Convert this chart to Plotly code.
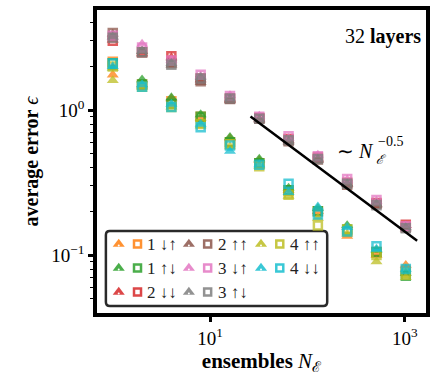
import plotly.graph_objects as go

# ensemble sizes
N = [1, 2, 4, 8, 16, 32, 64, 128, 256, 512, 1024]

# average error per configuration: (triangle run, square run)
err_1_du_tri = [1.75, 1.50, 1.20, 0.88, 0.64, 0.45, 0.28, 0.200, 0.135, 0.100, 0.085]
err_1_du_sq  = [2.15, 1.50, 1.15, 0.90, 0.60, 0.43, 0.28, 0.200, 0.145, 0.105, 0.078]
err_1_ud_tri = [1.95, 1.62, 1.22, 0.93, 0.65, 0.46, 0.29, 0.210, 0.160, 0.108, 0.075]
err_1_ud_sq  = [2.10, 1.50, 1.10, 0.90, 0.60, 0.43, 0.28, 0.200, 0.150, 0.105, 0.072]
err_2_dd_tri = [3.05, 2.45, 2.30, 1.62, 1.18, 0.87, 0.62, 0.460, 0.310, 0.225, 0.160]
err_2_dd_sq  = [3.00, 2.50, 2.35, 1.65, 1.20, 0.88, 0.63, 0.470, 0.315, 0.228, 0.162]
err_2_uu_tri = [3.35, 2.55, 2.05, 1.55, 1.17, 0.86, 0.60, 0.450, 0.310, 0.222, 0.152]
err_2_uu_sq  = [3.40, 2.50, 2.10, 1.58, 1.19, 0.87, 0.61, 0.455, 0.305, 0.225, 0.155]
err_3_du_tri = [3.20, 2.85, 2.20, 1.72, 1.26, 0.91, 0.64, 0.490, 0.330, 0.235, 0.160]
err_3_du_sq  = [3.25, 2.70, 2.20, 1.75, 1.25, 0.90, 0.66, 0.480, 0.335, 0.240, 0.158]
err_3_ud_tri = [3.20, 2.55, 2.10, 1.68, 1.20, 0.86, 0.61, 0.460, 0.310, 0.225, 0.155]
err_3_ud_sq  = [3.15, 2.50, 2.05, 1.65, 1.20, 0.87, 0.62, 0.460, 0.310, 0.220, 0.153]
err_4_uu_tri = [1.60, 1.45, 1.05, 0.78, 0.56, 0.41, 0.255, 0.180, 0.140, 0.090, 0.070]
err_4_uu_sq  = [2.00, 1.45, 1.05, 0.80, 0.58, 0.41, 0.260, 0.160, 0.150, 0.100, 0.075]
err_4_dd_tri = [2.00, 1.50, 1.10, 0.80, 0.52, 0.42, 0.270, 0.215, 0.155, 0.110, 0.080]
err_4_dd_sq  = [2.10, 1.45, 1.05, 0.76, 0.57, 0.42, 0.310, 0.190, 0.145, 0.115, 0.080]

labels = ["1 ↓↑", "1 ↑↓", "2 ↓↓", "2 ↑↑", "3 ↓↑", "3 ↑↓", "4 ↑↑", "4 ↓↓"]
colors = ["#ff7f0e", "#2ca02c", "#d62728", "#8c564b",
          "#e377c2", "#7f7f7f", "#bcbd22", "#17becf"]
tri_runs = [err_1_du_tri, err_1_ud_tri, err_2_dd_tri, err_2_uu_tri,
            err_3_du_tri, err_3_ud_tri, err_4_uu_tri, err_4_dd_tri]
sq_runs = [err_1_du_sq, err_1_ud_sq, err_2_dd_sq, err_2_uu_sq,
           err_3_du_sq, err_3_ud_sq, err_4_uu_sq, err_4_dd_sq]

# guide line ~ N^-0.5
fit_N = [26, 1340]
fit_amp = 4.6
fit_err = [fit_amp * n ** -0.5 for n in fit_N]

FONT = "Liberation Serif"
W, H = 431, 378
L, R, T, B = 97, 430, 10, 313  # plot area in figure pixels

fig = go.Figure()

for lab, col, tr, sq in zip(labels, colors, tri_runs, sq_runs):
    fig.add_trace(go.Scatter(
        x=N, y=tr, mode="markers", showlegend=False, name=lab,
        marker=dict(symbol="triangle-up", size=10.5, color=col, opacity=0.75,
                    line=dict(width=0))))
    fig.add_trace(go.Scatter(
        x=N, y=sq, mode="markers", showlegend=False, name=lab,
        marker=dict(symbol="square-open", size=8, color=col, opacity=0.75,
                    line=dict(width=2.5, color=col))))

fig.add_trace(go.Scatter(x=fit_N, y=fit_err, mode="lines", showlegend=False,
                         line=dict(color="black", width=2.5)))

# hand-built legend on a pixel-coordinate overlay
box = dict(x0=106, x1=330, y0=231, y1=306, r=4)
rows_y = [244, 268, 292]
cols_x = [119, 190, 263]
tri_dx, sq_dx, txt_dx = 0, 19, 27

for i, (lab, col) in enumerate(zip(labels, colors)):
    cx = cols_x[i // 3]
    cy = rows_y[i % 3]
    fig.add_trace(go.Scatter(
        x=[cx + tri_dx], y=[cy], xaxis="x2", yaxis="y2", mode="markers",
        showlegend=False, hoverinfo="skip",
        marker=dict(symbol="triangle-up", size=10.5, color=col, opacity=0.85,
                    line=dict(width=0))))
    fig.add_trace(go.Scatter(
        x=[cx + tri_dx], y=[cy + 1.5], xaxis="x2", yaxis="y2", mode="markers",
        showlegend=False, hoverinfo="skip",
        marker=dict(symbol="circle", size=2, color="white")))
    fig.add_trace(go.Scatter(
        x=[cx + sq_dx], y=[cy], xaxis="x2", yaxis="y2", mode="markers",
        showlegend=False, hoverinfo="skip",
        marker=dict(symbol="square-open", size=7, color=col, opacity=0.85,
                    line=dict(width=2.5, color=col))))
    fig.add_annotation(x=cx + txt_dx, y=cy, xref="x2", yref="y2", text=lab,
                       showarrow=False, xanchor="left", yanchor="middle",
                       font=dict(family=FONT, size=17, color="#222"))

r = box["r"]
path = (f"M {box['x0']+r},{box['y0']} L {box['x1']-r},{box['y0']} "
        f"Q {box['x1']},{box['y0']} {box['x1']},{box['y0']+r} "
        f"L {box['x1']},{box['y1']-r} Q {box['x1']},{box['y1']} {box['x1']-r},{box['y1']} "
        f"L {box['x0']+r},{box['y1']} Q {box['x0']},{box['y1']} {box['x0']},{box['y1']-r} "
        f"L {box['x0']},{box['y0']+r} Q {box['x0']},{box['y0']} {box['x0']+r},{box['y0']} Z")
fig.add_shape(type="path", path=path, xref="x2", yref="y2",
              line=dict(color="#2a2a2a", width=2.5), fillcolor="white", layer="below")

# text labels
fig.add_annotation(x=427, y=36, xref="x2", yref="y2", text="32 <b>layers</b>",
                   showarrow=False, xanchor="right", yanchor="middle",
                   font=dict(family=FONT, size=20, color="black"))
fig.add_annotation(x=338, y=151, xref="x2", yref="y2", text="∼ <i>N</i>",
                   showarrow=False, xanchor="left", yanchor="middle",
                   font=dict(family=FONT, size=20, color="black"))
fig.add_annotation(x=379, y=141, xref="x2", yref="y2", text="−0.5",
                   showarrow=False, xanchor="left", yanchor="middle",
                   font=dict(family=FONT, size=14, color="black"))
fig.add_annotation(x=377, y=159, xref="x2", yref="y2", text="<i>ℰ</i>",
                   showarrow=False, xanchor="left", yanchor="middle",
                   font=dict(family=FONT, size=13, color="black"))

y_minor = [0.05, 0.06, 0.07, 0.08, 0.09, 0.2, 0.3, 0.4, 0.5, 0.6, 0.7, 0.8, 0.9,
           2, 3, 4]

fig.update_layout(
    width=W, height=H,
    margin=dict(l=L, r=W - R, t=T, b=H - B, pad=0),
    paper_bgcolor="white", plot_bgcolor="white",
    font=dict(family=FONT, size=16, color="black"),
    xaxis=dict(
        type="log", range=[-0.162, 3.218],
        tickvals=[10, 1000], ticktext=["10<sup>1</sup>", "10<sup>3</sup>"],
        ticks="outside", ticklen=5, tickwidth=3, tickcolor="black",
        showline=True, linewidth=3.5, linecolor="black", mirror=True,
        showgrid=False, zeroline=False,
        tickfont=dict(family=FONT, size=19),
        title=dict(text="<b>ensembles</b> <i>N</i><sub>ℰ</sub>",
                   font=dict(family=FONT, size=21), standoff=2),
    ),
    yaxis=dict(
        type="log", range=[-1.40, 0.69],
        tickvals=[0.1, 1], ticktext=["10<sup>−1</sup>", "10<sup>0</sup>"],
        ticks="outside", ticklen=5, tickwidth=3, tickcolor="black",
        minor=dict(tickvals=y_minor, ticks="outside", ticklen=3, tickwidth=1,
                   tickcolor="black", showgrid=False),
        showline=True, linewidth=3.5, linecolor="black", mirror=True,
        showgrid=False, zeroline=False,
        tickfont=dict(family=FONT, size=19),
        title=dict(text="<b>average error</b> <i>ϵ</i>",
                   font=dict(family=FONT, size=20), standoff=8),
    ),
    xaxis2=dict(overlaying="x", range=[L, R], visible=False, fixedrange=True),
    yaxis2=dict(overlaying="y", range=[B, T], visible=False, fixedrange=True),
    showlegend=False,
)

fig.write_html("out.html")
